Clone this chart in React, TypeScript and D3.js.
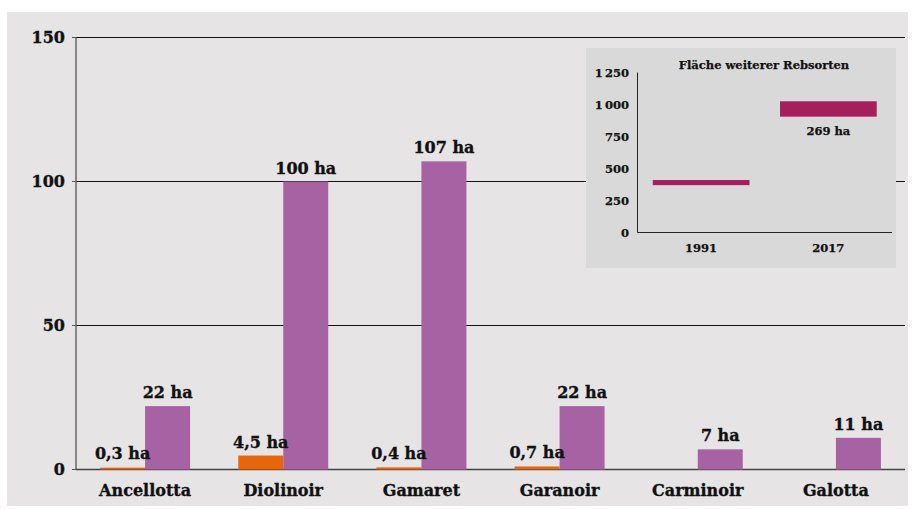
import * as React from "react"
import * as d3 from "d3"

// main chart data (ha)
const categories = ["Ancellotta", "Diolinoir", "Gamaret", "Garanoir", "Carminoir", "Galotta"]
const area1991: (number | null)[] = [0.3, 4.5, 0.4, 0.7, null, null]
const area2017: number[] = [22, 100, 107, 22, 7, 11]
const label1991: (string | null)[] = ["0,3 ha", "4,5 ha", "0,4 ha", "0,7 ha", null, null]
const label2017: string[] = ["22 ha", "100 ha", "107 ha", "22 ha", "7 ha", "11 ha"]
const mainTicks = [0, 50, 100, 150]

// inset: area of other varieties (floating range bars)
const insetYears = ["1991", "2017"]
const insetLow = [370, 905]
const insetHigh = [410, 1025]
const insetLabels: (string | null)[] = [null, "269 ha"]
const insetTicks = [0, 250, 500, 750, 1000, 1250]

const W = 915
const H = 509
const FONT = "'DejaVu Serif', serif"
const fmtThousands = (v: number): string => v >= 1000 ? d3.format(",")(v).replace(",", "\u2009") : String(v)

// slightly heavier text, like the original slab face
const txt = { fill: "#111", stroke: "#111", strokeWidth: 0.35 }

export default function App(): JSX.Element {
    const margin = { top: 37.5, right: 10, bottom: 39.5, left: 76 }
    const innerW = 905 - margin.left
    const innerH = H - margin.top - margin.bottom

    const x = d3.scaleBand<string>().domain(categories).range([0, innerW])
    const y = d3.scaleLinear().domain([0, 150]).range([innerH, 0])
    const barW = 45

    // inset geometry
    const ins = { x: 586, y: 48, w: 310, h: 220 }
    const iLeft = 637.5
    const iRight = 892
    const iTop = 72.5
    const iBottom = 232.5
    const ix = d3.scaleBand<string>().domain(insetYears).range([iLeft, iRight]).paddingInner(0.24).paddingOuter(0.12)
    const iy = d3.scaleLinear().domain([0, 1250]).range([iBottom, iTop])

    return (
        <svg width={W} height={H} style={{ position: "absolute", left: 0, top: 0 }} fontFamily={FONT} fontWeight="bold">
            <rect x={7} y={12} width={901} height={494} fill="#e6e4e5" />
            <g transform={`translate(${margin.left},${margin.top})`}>
                {/* gridlines + ticks */}
                {mainTicks.map(t => (
                    <g key={t}>
                        {t > 0 && <line x1={0} x2={innerW} y1={y(t)} y2={y(t)} stroke="#111" strokeWidth={1} />}
                        <line x1={-4} x2={0} y1={y(t)} y2={y(t)} stroke="#555" />
                        <text x={-11} y={y(t)} dy="0.35em" textAnchor="end" fontSize={16} {...txt}>{t}</text>
                    </g>
                ))}
                {/* axes */}
                <line x1={0} x2={0} y1={0} y2={innerH} stroke="#666" strokeWidth={1.5} />
                <line x1={0} x2={innerW} y1={innerH} y2={innerH} stroke="#444" strokeWidth={1.5} />
                {/* bars */}
                {categories.map((c, i) => {
                    const cx = (x(c) as number) + x.bandwidth() / 2
                    const v1 = area1991[i]
                    const v2 = area2017[i]
                    return (
                        <g key={c}>
                            {v1 !== null && (
                                <rect x={cx - barW} y={y(v1) - 1} width={barW} height={innerH - y(v1) + 1} fill="#e8650a" />
                            )}
                            <rect x={cx} y={y(v2)} width={barW} height={innerH - y(v2)} fill="#a662a3" />
                            {v1 !== null && label1991[i] && (
                                <text x={cx - barW / 2} y={Math.min(y(v1), innerH - 1.5) - 9} textAnchor="middle" fontSize={16} {...txt}>{label1991[i]}</text>
                            )}
                            <text x={cx + barW / 2} y={y(v2) - 8} textAnchor="middle" fontSize={16} {...txt}>{label2017[i]}</text>
                            <text x={cx} y={innerH + 26} textAnchor="middle" fontSize={16} {...txt}>{c}</text>
                        </g>
                    )
                })}
            </g>

            {/* inset */}
            <rect x={ins.x} y={ins.y} width={ins.w} height={ins.h} fill="#d9d9d9" />
            <text x={764} y={69} textAnchor="middle" fontSize={11.5} {...txt} strokeWidth={0.25}>Fläche weiterer Rebsorten</text>
            {insetTicks.map(t => (
                <text key={t} x={629} y={iy(t)} dy="0.35em" textAnchor="end" fontSize={11.5} {...txt} strokeWidth={0.25}>{fmtThousands(t)}</text>
            ))}
            {insetYears.map((yr, i) => {
                const bx = ix(yr) as number
                return (
                    <g key={yr}>
                        <rect x={bx} y={iy(insetHigh[i])} width={ix.bandwidth()} height={iy(insetLow[i]) - iy(insetHigh[i])} fill="#a61e5c" />
                        {insetLabels[i] && (
                            <text x={bx + ix.bandwidth() / 2} y={iy(insetLow[i]) + 18} textAnchor="middle" fontSize={11.5} {...txt} strokeWidth={0.25}>{insetLabels[i]}</text>
                        )}
                        <text x={bx + ix.bandwidth() / 2} y={iBottom + 19} textAnchor="middle" fontSize={11.5} {...txt} strokeWidth={0.25}>{yr}</text>
                    </g>
                )
            })}
            <line x1={iLeft} x2={iLeft} y1={iTop} y2={iBottom} stroke="#222" strokeWidth={1} />
            <line x1={iLeft} x2={iRight} y1={iBottom} y2={iBottom} stroke="#222" strokeWidth={1} />
        </svg>
    )
}
